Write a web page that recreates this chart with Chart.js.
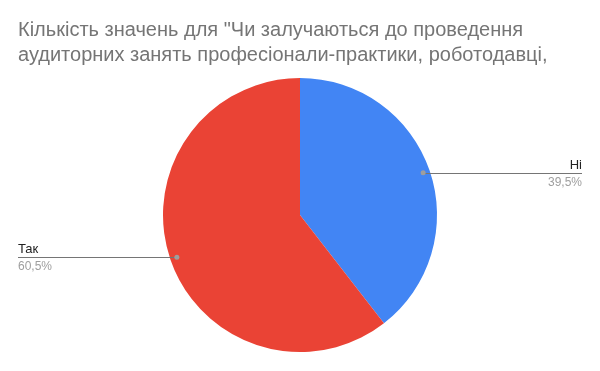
<!DOCTYPE html>
<html>
<head>
<meta charset="utf-8">
<script src="https://cdn.jsdelivr.net/npm/chart.js"></script>
<style>
  html, body { margin: 0; padding: 0; background: #fff; }
  #wrap { width: 600px; height: 371px; }
</style>
</head>
<body>
<div id="wrap"><canvas id="pieChart" width="600" height="371"></canvas></div>
<script>
// Data
const titleLines = ['Кількість значень для "Чи залучаються до проведення', 'аудиторних занять професіонали-практики, роботодавці,'];
const labels = ['Ні', 'Так'];
const values = [39.5, 60.5];
const percentText = ['39,5%', '60,5%'];
const colors = ['#4285f4', '#ea4335'];

const FONT = '"Liberation Sans", Arial, sans-serif';

// ====== Leader lines + labels ======
const leaderLabels = {
    id: 'leaderLabels',
    afterDraw(chart) {
        const ctx = chart.ctx;
        const meta = chart.getDatasetMeta(0);
        meta.data.forEach((arc, i) => {
            const p = arc.getProps(['x', 'y', 'startAngle', 'endAngle', 'outerRadius'], true);
            const mid = (p.startAngle + p.endAngle) / 2;
            const r = p.outerRadius * 0.95;
            const dx = p.x + Math.cos(mid) * r;
            const dy = p.y + Math.sin(mid) * r;
            const right = Math.cos(mid) >= 0;
            const edge = right ? chart.width - 18 : 18;

            ctx.save();
            ctx.strokeStyle = '#757575';
            ctx.lineWidth = 1;
            ctx.beginPath();
            ctx.moveTo(dx, Math.round(dy) + 0.5);
            ctx.lineTo(edge, Math.round(dy) + 0.5);
            ctx.stroke();

            ctx.fillStyle = '#9e9e9e';
            ctx.beginPath();
            ctx.arc(dx, dy, 2.5, 0, Math.PI * 2);
            ctx.fill();

            ctx.textAlign = right ? 'right' : 'left';
            ctx.textBaseline = 'alphabetic';
            ctx.font = '13px ' + FONT;
            ctx.fillStyle = '#222222';
            ctx.fillText(labels[i], edge, Math.round(dy) - 4);
            ctx.font = '12px ' + FONT;
            ctx.fillStyle = '#9e9e9e';
            ctx.fillText(percentText[i], edge, Math.round(dy) + 13);
            ctx.restore();
        });
    }
};

const ctxPie = document.getElementById('pieChart').getContext('2d');
new Chart(ctxPie, {
    type: 'pie',
    data: {
        labels: labels,
        datasets: [{
            data: values,
            backgroundColor: colors,
            borderWidth: 0,
            hoverOffset: 0
        }]
    },
    options: {
        responsive: false,
        animation: false,
        layout: { padding: { left: 18, right: 18, top: 0, bottom: 19 } },
        plugins: {
            legend: { display: false },
            tooltip: { enabled: false },
            title: {
                display: true,
                text: titleLines,
                align: 'start',
                color: '#757575',
                font: { family: FONT, size: 20, weight: 'normal', lineHeight: 25 / 20 },
                padding: { top: 17.5, bottom: 10.5 }
            }
        }
    },
    plugins: [leaderLabels]
});
</script>
</body>
</html>
